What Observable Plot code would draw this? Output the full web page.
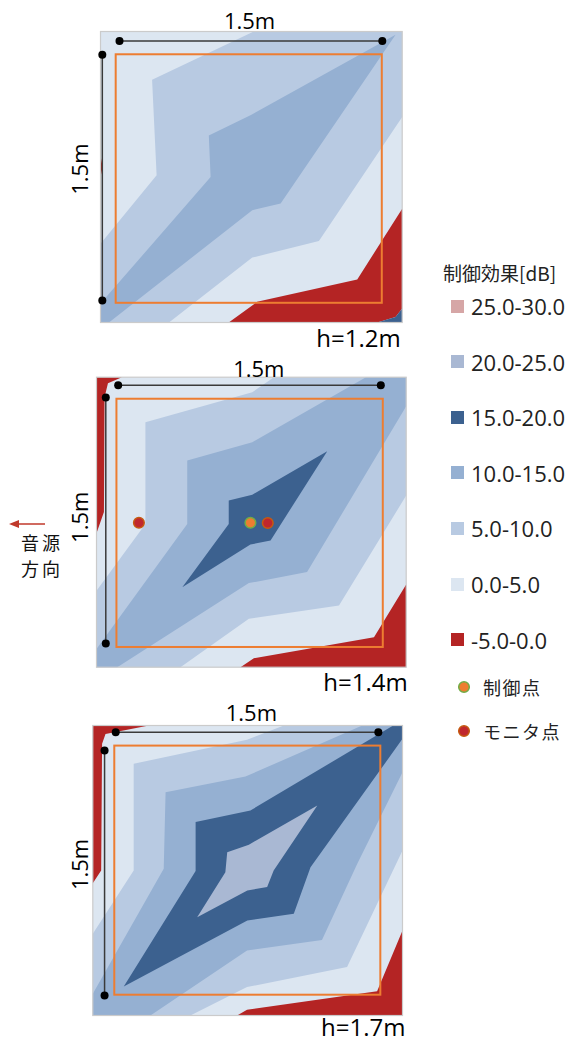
<!DOCTYPE html>
<html lang="ja">
<head>
<meta charset="utf-8">
<title>制御効果</title>
<script src="https://cdn.jsdelivr.net/npm/d3@7"></script>
<script src="https://cdn.jsdelivr.net/npm/@observablehq/plot@0.6"></script>
<style>
  html, body { margin: 0; padding: 0; background: #fff; }
  #root { position: relative; width: 570px; height: 1041px; overflow: hidden; background: #fff;
          font-family: "Open Sans", "Noto Sans CJK JP", sans-serif; color: #222; }
  .panel { position: absolute; left: 0; width: 420px; }
  .panel svg { display: block; overflow: visible; }
  .lg { position: absolute; display: flex; align-items: center; height: 24px; white-space: nowrap; }
  .jp { font-family: "Noto Sans CJK JP", sans-serif; }
  .src { position: absolute; left: 21px; font-size: 18px; line-height: 26px; letter-spacing: 3px; color: #111; }
</style>
</head>
<body>
<div id="root">
  <div id="p0" class="panel" style="top:0px"></div>
  <div id="p1" class="panel" style="top:350px"></div>
  <div id="p2" class="panel" style="top:697px"></div>
  <div id="legend"></div>
  <div id="source" style="position:absolute;left:0;top:510px;width:80px;height:80px;">
    <svg width="60" height="24" style="position:absolute;left:0;top:0">
      <line x1="17" y1="14" x2="45" y2="14" stroke="#c0392b" stroke-width="1.5"/>
      <polygon points="9,14 19,10 19,18" fill="#c0392b"/>
    </svg>
    <div class="src jp" style="top:19px">音源</div>
    <div class="src jp" style="top:45px">方向</div>
  </div>
</div>
<script>
// effect bands of the control effect [dB] and their colours
const bandNames  = ["25.0-30.0", "20.0-25.0", "15.0-20.0", "10.0-15.0", "5.0-10.0", "0.0-5.0", "-5.0-0.0"];
const bandColors = ["#d6a6a6", "#a9b8d3", "#3c618f", "#95b0d2", "#b8cae2", "#dce6f1", "#b42424"];
const pointNames = ["制御点", "モニタ点"];

const sideLabel = "1.5m";
const heightLabels = ["h=1.2m", "h=1.4m", "h=1.7m"];

// contour regions per measuring height, painted in order (later regions lie on top);
// vertices are percent of the measured square, x to the right, y downward
const regions12 = [
  ["0.0-5.0",   [[0,0],[100,0],[100,100],[0,100]]],
  ["5.0-10.0",  [[50.8,0],[100,0],[100,29.4],[72.4,72.0],[50.3,77.7],[22.7,100],[0,100],[0,72.9],[18.6,49.4],[17.1,16.6]]],
  ["10.0-15.0", [[0,93.5],[36.5,50.0],[35.9,35.7],[49.7,28.8],[97.8,1.1],[59.7,59.1],[50.3,61.4],[2.8,100],[0,100]]],
  ["-5.0-0.0",  [[42.5,100],[51.9,92.9],[85.1,85.2],[100,60.9],[100,95.2],[97.8,98.1],[91.7,100]]],
  ["-5.0-0.0",  [[0,42.6],[0.7,46.6],[0,50]]],
  ["15.0-20.0", [[100,95.2],[100,100],[91.7,100],[97.8,98.1]]]
];
const regions14 = [
  ["0.0-5.0",   [[0,0],[100,0],[100,100],[0,100]]],
  ["5.0-10.0",  [[57.3,0],[100,0],[100,40.8],[78.3,78.7],[49.2,83.3],[27.1,100],[0,100],[0,73.6],[15.8,50.6],[15.8,15.5],[50.3,5.2]]],
  ["10.0-15.0", [[0,93.7],[29.3,50.6],[29.3,28.7],[50.3,22.4],[87,0],[100,0],[100,10],[68.0,67.2],[49.2,71.0],[6.7,100],[0,100]]],
  ["15.0-20.0", [[74.5,25.5],[56.2,56.3],[49.7,57.7],[27.7,72.4],[42.7,50.6],[42.7,42.5],[50.3,40.5]]],
  ["-5.0-0.0",  [[0,0],[8.2,0],[3.7,2.1],[2.6,6.9],[2.4,46.5],[0,53.8]]],
  ["-5.0-0.0",  [[46.5,100],[50.8,96.9],[89.6,89.7],[100,71.5],[100,100]]]
];
const regions17 = [
  ["0.0-5.0",   [[0,0],[100,0],[100,100],[0,100]]],
  ["5.0-10.0",  [[61.7,0],[100,0],[100,43.1],[82.1,83.3],[49.8,90.2],[31.5,100],[0,100],[0,71.8],[13.2,50.0],[13.2,13.2],[49.8,4.9]]],
  ["10.0-15.0", [[0,92.5],[22.9,49.4],[23.5,23.0],[49.3,17.6],[87,0],[100,0],[100,16.1],[85.4,47.7],[74,74],[49.8,77.6],[18.6,100],[0,100]]],
  ["15.0-20.0", [[10.0,90.0],[33.2,50.2],[33.2,33.3],[50.9,29.3],[97,0],[100,0],[100,4.6],[70.3,48.9],[64.9,64.9],[49.9,67.2]]],
  ["20.0-25.0", [[72.5,27.6],[58.4,50.0],[56.3,55.7],[49.9,56.9],[33.7,66.1],[42.8,50.6],[43.4,43.7],[50.4,41.1]]],
  ["-5.0-0.0",  [[0,0],[18.1,0],[4.1,2.9],[3.0,6.3],[2.7,50.0],[0,54.4]]],
  ["-5.0-0.0",  [[46.6,100],[49.8,98.0],[91.8,91.6],[100,70.7],[100,100]]]
];

// control and monitor microphone positions (h=1.4m only)
const controlPoints14 = [[49.7,50.2]];
const monitorPoints14 = [[13.7,50.2],[55.3,50.3]];

// 1.5m x 1.5m measuring area outline: [x1, y1, x2, y2]
const areaBox = [[5.2,8.0,93.4,93.4],[6.6,7.6,92.6,93.2],[7.1,7.1,93.0,93.0]];
// dimension rules: width (top) and depth (left), [x1, y1, x2, y2]
const widthRule = [[6.3,3.3,93.4,3.3],[7.0,2.8,91.8,2.8],[7.4,2.3,92.2,2.3]];
const depthRule = [[0.6,8.0,0.6,92.4],[3.0,7.0,3.0,91.8],[3.8,8.6,3.8,93.1]];

// page layout of the three panels
const layout = [
  {height: 350, left: 100,  right: 401.7, mt: 31,   mb: 28,   topX: 49.4, topDy: -3, sideY: 47.3, sideDx: -20,   hDx: -1.5, hDy: 24.7},
  {height: 347, left: 96,   right: 405.7, mt: 26.7, mb: 30.3, topX: 52.4, topDy: 0,  sideY: 48.3, sideDx: -16,   hDx: 1.5,  hDy: 23.3},
  {height: 344, left: 92.3, right: 402,   mt: 28,   mb: 26,   topX: 51.2, topDy: -5, sideY: 47.9, sideDx: -12.3, hDx: 3,    hDy: 20}
];

const controlStyle = {fill: "#ed7d31", stroke: "#70ad47"};
const monitorStyle = {fill: "#c0272d", stroke: "#c55a11"};

function drawPanel(i, regions, control = [], monitor = []) {
  const L = layout[i];
  const rows = regions.flatMap(([band, pts], k) => pts.map(([x, y]) => ({id: k, band, x, y})));
  const rules = [widthRule[i], depthRule[i]].map(([x1, y1, x2, y2]) => ({x1, y1, x2, y2}));
  const ends = rules.flatMap(r => [{x: r.x1, y: r.y1}, {x: r.x2, y: r.y2}]);
  const W = 420;
  return Plot.plot({
    width: W,
    height: L.height,
    marginLeft: L.left,
    marginRight: W - L.right,
    marginTop: L.mt,
    marginBottom: L.mb,
    x: {domain: [0, 100], axis: null},
    y: {domain: [0, 100], reverse: true, axis: null},
    color: {domain: bandNames, range: bandColors},
    style: {background: "transparent", fontFamily: "'Open Sans', sans-serif", overflow: "visible"},
    marks: [
      Plot.line(rows, {x: "x", y: "y", z: "id", fill: "band", stroke: "none", curve: "linear-closed"}),
      Plot.frame({stroke: "#cbcbcb", strokeWidth: 1.2}),
      Plot.rect([areaBox[i]], {x1: d => d[0], y1: d => d[1], x2: d => d[2], y2: d => d[3],
        fill: "none", stroke: "#ed7d31", strokeWidth: 2}),
      Plot.link(rules, {x1: "x1", y1: "y1", x2: "x2", y2: "y2", stroke: "#3a3a3a", strokeWidth: 1.5}),
      Plot.dot(ends, {x: "x", y: "y", r: 4, fill: "#000"}),
      Plot.dot(monitor, {x: d => d[0], y: d => d[1], r: 5.3, strokeWidth: 1.5, ...monitorStyle}),
      Plot.dot(control, {x: d => d[0], y: d => d[1], r: 5.3, strokeWidth: 1.5, ...controlStyle}),
      Plot.text([sideLabel], {x: L.topX, y: 0, dy: L.topDy, text: d => d, lineAnchor: "bottom",
        fontSize: 22, fill: "#000"}),
      Plot.text([sideLabel], {x: 0, y: L.sideY, dx: L.sideDx, rotate: -90, text: d => d,
        lineAnchor: "middle", fontSize: 22, fill: "#000"}),
      Plot.text([heightLabels[i]], {x: 100, y: 100, dx: L.hDx, dy: L.hDy, text: d => d,
        textAnchor: "end", lineAnchor: "bottom", fontSize: 24, fill: "#000"})
    ]
  });
}

document.getElementById("p0").append(drawPanel(0, regions12));
document.getElementById("p1").append(drawPanel(1, regions14, controlPoints14, monitorPoints14));
document.getElementById("p2").append(drawPanel(2, regions17));

// legend
const legend = document.getElementById("legend");
function add(html, style, cls = "lg") {
  const el = document.createElement("div");
  el.className = cls;
  el.setAttribute("style", style);
  el.innerHTML = html;
  legend.append(el);
}
add("制御効果[dB]", "left:443px;top:260px;font-size:19px;", "lg jp");
bandNames.forEach((name, k) => {
  const cy = 306 + 55.6 * k;
  add(`<span style="display:inline-block;width:13px;height:13px;background:${bandColors[k]};margin-right:7px"></span>` +
      `<span style="font-size:22px">${name}</span>`,
      `left:451px;top:${cy - 12}px;`);
});
[controlStyle, monitorStyle].forEach((s, k) => {
  const cy = 687 + 43.5 * k;
  add(`<svg width="16" height="16" style="margin-right:11px"><circle cx="8" cy="8" r="5.3" fill="${s.fill}" stroke="${s.stroke}" stroke-width="1.5"/></svg>` +
      `<span class="jp" style="font-size:18px;letter-spacing:1.5px">${pointNames[k]}</span>`,
      `left:456px;top:${cy - 12}px;`);
});
</script>
</body>
</html>
